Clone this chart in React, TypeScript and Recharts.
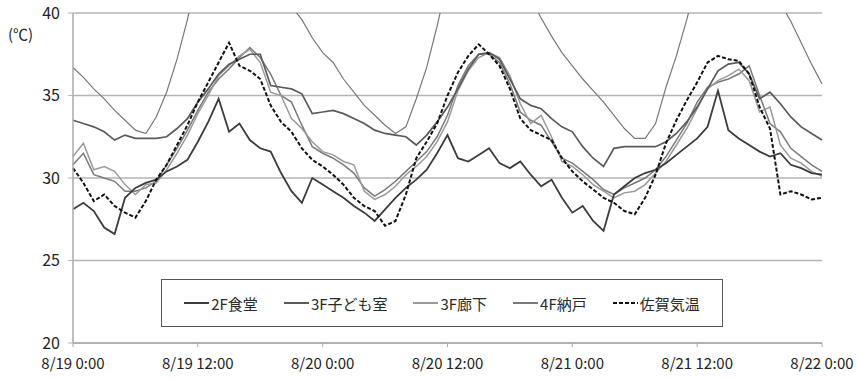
import React from "react";
import { LineChart, Line, XAxis, YAxis, CartesianGrid, Legend } from "recharts";

// x axis: hours from 8/19 0:00
const timeTicks = [0, 12, 24, 36, 48, 60, 72];
const timeLabels = ["8/19 0:00", "8/19 12:00", "8/20 0:00", "8/20 12:00", "8/21 0:00", "8/21 12:00", "8/22 0:00"];
const tempTicks = [20, 25, 30, 35, 40];

// hourly readings (°C)
const s2F = [
  28.1, 28.5, 28.0, 27.0, 26.6, 28.8, 29.4, 29.7, 29.9, 30.4, 30.7, 31.1, 32.2, 33.4, 34.8, 32.8, 33.3, 32.3, 31.8, 31.6,
  30.3, 29.2, 28.5, 30.0, 29.6, 29.2, 28.8, 28.3, 27.9, 27.4, 28.1, 28.8, 29.4, 29.9, 30.5, 31.5, 32.6, 31.2, 31.0, 31.4,
  31.8, 30.9, 30.6, 31.0, 30.2, 29.5, 29.9, 28.8, 27.9, 28.3, 27.4, 26.8, 29.0, 29.5, 30.0, 30.3, 30.5, 30.9, 31.4, 31.9,
  32.4, 33.1, 35.3, 32.9, 32.4, 32.0, 31.6, 31.3, 31.5, 30.8, 30.6, 30.3, 30.2,
];
const s3Fkids = [
  33.5, 33.3, 33.1, 32.8, 32.3, 32.6, 32.4, 32.4, 32.4, 32.5, 33.0, 33.6, 34.6, 35.4, 36.3, 36.9, 37.2, 37.5, 37.5, 35.6,
  35.5, 35.4, 35.1, 33.9, 34.0, 34.1, 33.9, 33.6, 33.3, 32.9, 32.7, 32.6, 32.5, 32.0, 32.6, 33.4, 34.3, 35.4, 36.6, 37.5,
  37.6, 37.2, 36.0, 34.8, 34.4, 34.2, 33.6, 33.1, 32.8, 31.9, 31.2, 30.7, 31.8, 31.9, 31.9, 31.9, 31.9, 32.2, 32.7, 33.4,
  34.3, 35.4, 36.5, 36.9, 37.0, 36.3, 34.8, 35.2, 34.5, 33.7, 33.1, 32.7, 32.3,
];
const s3Fhall = [
  31.3, 32.1, 30.5, 30.7, 30.4, 29.6, 29.0, 29.6, 29.7, 30.5, 31.5, 32.6, 33.9, 35.0, 36.2, 36.8, 37.4, 37.8, 37.0, 35.2,
  35.0, 33.6, 33.0, 32.2, 31.6, 31.4, 31.0, 30.8, 29.2, 28.7, 29.0, 29.5, 30.2, 30.7, 31.3, 32.2, 33.4, 35.3, 36.5, 37.3,
  37.6, 37.3, 36.2, 34.5, 33.3, 33.8, 32.5, 31.0, 30.7, 30.2, 29.6, 29.2, 28.8, 29.1, 29.2, 29.6, 30.3, 31.0, 32.0, 33.0,
  34.2, 35.4, 35.9, 36.2, 36.6, 35.9, 34.0, 34.3, 32.0, 31.2, 30.9, 30.4, 30.1,
];
const s4F = [
  30.8, 31.5, 30.2, 30.0, 29.8, 29.2, 29.2, 29.4, 29.8, 30.8, 31.8, 32.9, 34.1, 35.2, 36.0, 36.6, 37.3, 37.9, 37.3, 36.3,
  35.0, 34.6, 33.2, 31.9, 31.5, 31.2, 30.8, 30.3, 29.4, 28.9, 29.3, 29.8, 30.4, 31.0, 31.6, 32.5, 33.8, 35.6, 36.8, 37.5,
  37.5, 37.0, 35.7, 34.0, 33.5, 33.2, 32.2, 31.2, 30.9, 30.4, 29.9, 29.3, 29.0, 29.4, 29.7, 30.0, 30.5, 31.3, 32.3, 33.3,
  34.6, 35.5, 35.8, 36.0, 36.3, 36.8, 35.0, 33.3, 32.8, 31.8, 31.3, 30.8, 30.4,
];
const sSaga = [
  30.6, 29.7, 28.6, 29.0, 28.3, 27.9, 27.6, 28.6, 29.9, 30.8, 32.0, 33.2, 34.6, 35.8, 37.0, 38.2, 36.8, 36.5, 36.0, 34.4,
  33.4, 32.8, 31.8, 31.1, 30.7, 30.2, 29.6, 28.8, 28.3, 28.0, 27.1, 27.4, 29.0, 31.2, 32.2, 33.3, 35.0, 36.4, 37.4, 38.1,
  37.5, 36.8, 35.4, 33.6, 32.9, 32.6, 32.3, 31.2, 30.4, 29.8, 29.3, 28.8, 28.5, 28.0, 27.8, 28.8, 30.2, 32.1, 33.5, 34.7,
  35.8, 37.0, 37.4, 37.2, 37.1, 36.3, 34.3, 33.0, 29.0, 29.2, 29.0, 28.7, 28.8,
];
// thin curve that runs off the top of the plot
const sCurve = [
  36.7, 36.1, 35.4, 34.8, 34.1, 33.5, 32.9, 32.7, 33.7, 35.2, 37.2, 39.6, 42.5, 44.5, 46.0, 47.0, 47.5, 47.0, 45.5, 43.5,
  41.8, 40.4, 39.6, 38.5, 37.6, 37.0, 36.0, 35.2, 34.4, 33.8, 33.2, 32.7, 33.1, 34.8, 36.7, 39.2, 42.0, 44.5, 46.0, 47.0,
  47.0, 46.0, 44.5, 42.5, 40.9, 39.7, 38.6, 37.6, 36.8, 36.0, 35.3, 34.6, 33.8, 33.0, 32.4, 32.4, 33.3, 35.5, 37.4, 39.6,
  42.0, 44.5, 46.0, 47.0, 47.0, 46.5, 45.0, 43.0, 40.6, 39.5, 38.2, 36.9, 35.7,
];

const data = s2F.map((v, i) => ({
  h: i,
  f2: v,
  f3k: s3Fkids[i],
  f3h: s3Fhall[i],
  f4: s4F[i],
  saga: sSaga[i],
  curve: sCurve[i],
}));

const series = [
  { key: "f2", name: "2F食堂", color: "#3c3c3c", dash: "" },
  { key: "f3k", name: "3F子ども室", color: "#5a5a5a", dash: "" },
  { key: "f3h", name: "3F廊下", color: "#9a9a9a", dash: "" },
  { key: "f4", name: "4F納戸", color: "#7a7a7a", dash: "" },
  { key: "saga", name: "佐賀気温", color: "#111111", dash: "4 2" },
];

const FONT = "'Noto Sans CJK JP', 'Noto Sans', sans-serif";

const LegendBox = () => (
  <div
    style={{
      display: "flex",
      alignItems: "center",
      justifyContent: "center",
      gap: 26,
      height: "100%",
      fontFamily: FONT,
      fontSize: 15,
      color: "#2a2a2a",
    }}
  >
    {series.map((s) => (
      <span key={s.key} style={{ display: "flex", alignItems: "center" }}>
        <svg width={25} height={4} style={{ marginRight: 2 }}>
          <line x1={0} y1={2} x2={25} y2={2} stroke={s.color} strokeWidth={2} strokeDasharray={s.dash || undefined} />
        </svg>
        {s.name}
      </span>
    ))}
  </div>
);

const App = () => {
  return (
    <div style={{ position: "absolute", left: 0, top: 0, background: "#fff", fontFamily: FONT }}>
      <LineChart width={858} height={380} data={data} margin={{ top: 13, right: 36, bottom: 0, left: 20 }}>
        <CartesianGrid vertical={false} stroke="#b4b4b4" strokeWidth={1.5} />
        <XAxis
          type="number"
          dataKey="h"
          domain={[0, 72]}
          ticks={timeTicks}
          interval={0}
          tickFormatter={(v: number) => timeLabels[timeTicks.indexOf(v)]}
          height={37}
          tickSize={4}
          tickMargin={11}
          axisLine={{ stroke: "#aaa", strokeWidth: 1.5 }}
          tickLine={{ stroke: "#aaa" }}
          tick={{ fill: "#222", fontSize: 15, fontFamily: FONT }}
        />
        <YAxis
          domain={[20, 40]}
          ticks={tempTicks}
          allowDataOverflow
          width={53}
          tickSize={5}
          tickMargin={8}
          axisLine={{ stroke: "#aaa", strokeWidth: 1.5 }}
          tickLine={{ stroke: "#b4b4b4" }}
          tick={{ fill: "#222", fontSize: 16, fontFamily: FONT }}
          label={{
            content: () => (
              <text x={8} y={40} fill="#222" fontSize={15} fontFamily={FONT}>
                (℃)
              </text>
            ),
          }}
        />
        <Legend
          layout="horizontal"
          verticalAlign="middle"
          align="center"
          content={() => <LegendBox />}
          wrapperStyle={{
            left: 161,
            top: 279,
            width: 562,
            height: 48,
            border: "1px solid #555",
            boxSizing: "border-box",
            background: "#fff",
          }}
        />
        <Line dataKey="curve" stroke="#777" strokeWidth={1.2} dot={false} legendType="none" isAnimationActive={false} />
        <Line dataKey="f4" name="4F納戸" stroke="#7a7a7a" strokeWidth={1.5} dot={false} isAnimationActive={false} />
        <Line dataKey="f3h" name="3F廊下" stroke="#9a9a9a" strokeWidth={1.5} dot={false} isAnimationActive={false} />
        <Line dataKey="f3k" name="3F子ども室" stroke="#5a5a5a" strokeWidth={1.7} dot={false} isAnimationActive={false} />
        <Line dataKey="f2" name="2F食堂" stroke="#3c3c3c" strokeWidth={1.8} dot={false} isAnimationActive={false} />
        <Line
          dataKey="saga"
          name="佐賀気温"
          stroke="#111"
          strokeWidth={2}
          strokeDasharray="4 2"
          dot={false}
          isAnimationActive={false}
        />
      </LineChart>
    </div>
  );
};

export default App;
